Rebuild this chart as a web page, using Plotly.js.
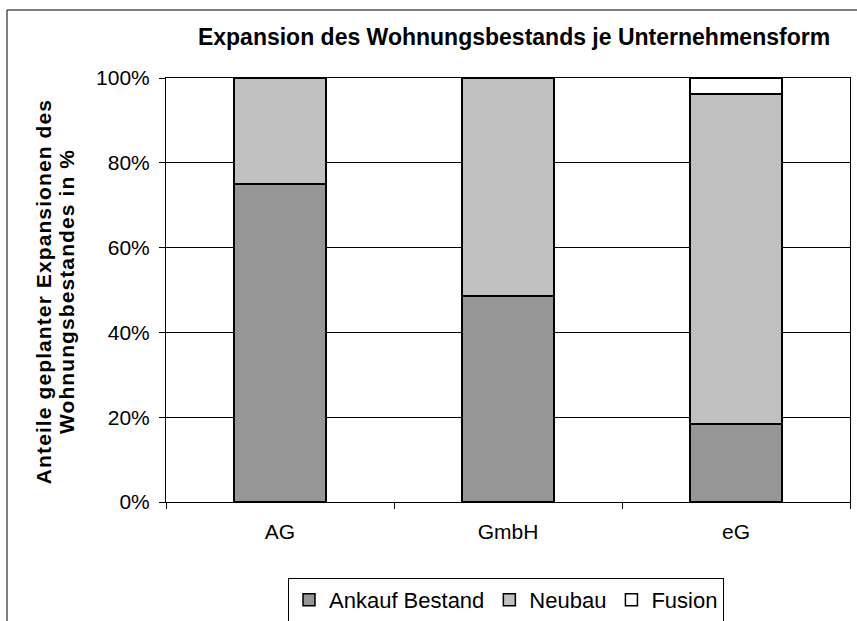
<!DOCTYPE html>
<html>
<head>
<meta charset="utf-8">
<script src="https://cdn.plot.ly/plotly-3.0.1.min.js"></script>
<style>
html,body{margin:0;padding:0;background:#fff;}
#chart{width:857px;height:621px;}
#chart .annotation-text{letter-spacing:1.1px;}
</style>
</head>
<body>
<div id="chart"></div>
<script>
const categories = ["AG", "GmbH", "eG"];
const ankaufBestand = [75, 48.6, 18.4];
const neubau = [25, 51.4, 77.8];
const fusion = [null, null, 3.8];
const seriesNames = ["Ankauf Bestand", "Neubau", "Fusion"];
const yTickVals = [0, 20, 40, 60, 80, 100];
const yTickText = ["0%", "20%", "40%", "60%", "80%", "100%"];
const chartTitle = "Expansion des Wohnungsbestands je Unternehmensform";
const yTitleLines = ["Anteile geplanter Expansionen des", "Wohnungsbestandes in %"];

const FONT = "Liberation Sans, Arial, sans-serif";
const colors = ["#969696", "#c0c0c0", "#ffffff"];
const vals = [ankaufBestand, neubau, fusion];

const traces = seriesNames.map((n, i) => ({
  type: "bar",
  name: n,
  x: categories,
  y: vals[i],
  marker: {color: colors[i], line: {color: "#000", width: 1.5}},
  hoverinfo: "skip"
}));

// plot area in px: x 166..850, y 78..502
const L = 166, R = 850, T = 78, B = 502;
const px2x = p => (p - L) / (R - L);
const py2y = p => (B - p) / (B - T);

const yTitleX = [43, 66];

const layout = {
  width: 857, height: 621,
  margin: {l: L, r: 857 - R, t: T, b: 621 - B, pad: 0, autoexpand: false},
  paper_bgcolor: "#fff",
  plot_bgcolor: "#fff",
  barmode: "stack",
  bargap: 0.596,
  font: {family: FONT, color: "#000", size: 21},
  title: {
    text: "<b>" + chartTitle + "</b>",
    font: {family: FONT, size: 23, color: "#000"},
    xref: "paper", x: px2x(514), xanchor: "center",
    yref: "container", y: 1 - 37 / 621, yanchor: "middle",
    automargin: false
  },
  xaxis: {
    type: "category",
    showline: true, linecolor: "#000", linewidth: 1, mirror: true,
    ticks: "outside", tickson: "boundaries", ticklen: 6, tickcolor: "#000", tickwidth: 1,
    tickfont: {family: FONT, size: 21, color: "#000"},
    ticklabelstandoff: 11,
    showgrid: false, zeroline: false,
    automargin: false
  },
  yaxis: {
    range: [0, 100],
    tickmode: "array",
    tickvals: yTickVals,
    ticktext: yTickText,
    showline: true, linecolor: "#000", linewidth: 1, mirror: true,
    ticks: "outside", ticklen: 6, tickcolor: "#000", tickwidth: 1,
    tickfont: {family: FONT, size: 21, color: "#000"},
    showgrid: true, gridcolor: "#000", gridwidth: 1,
    zeroline: false,
    ticklabelstandoff: 5,
    automargin: false
  },
  showlegend: true,
  legend: {
    orientation: "h",
    x: px2x(506), xanchor: "center",
    y: py2y(578), yanchor: "top",
    bordercolor: "#000", borderwidth: 1, bgcolor: "#fff",
    font: {family: FONT, size: 22, color: "#000"},
    traceorder: "normal"
  },
  annotations: yTitleLines.map((t, i) => ({
    text: "<b>" + t + "</b>",
    textangle: -90,
    xref: "paper", yref: "paper",
    x: px2x(yTitleX[i]), y: py2y(292),
    xanchor: "center", yanchor: "middle",
    showarrow: false,
    font: {family: FONT, size: 21, color: "#000"}
  })),
  shapes: [
    {type: "line", xref: "paper", yref: "paper", x0: px2x(7), x1: px2x(900), y0: py2y(10), y1: py2y(10), line: {color: "#000", width: 1}},
    {type: "line", xref: "paper", yref: "paper", x0: px2x(7), x1: px2x(7), y0: py2y(10), y1: py2y(700), line: {color: "#000", width: 1}}
  ]
};

Plotly.newPlot("chart", traces, layout, {displayModeBar: false, staticPlot: true});
</script>
</body>
</html>
